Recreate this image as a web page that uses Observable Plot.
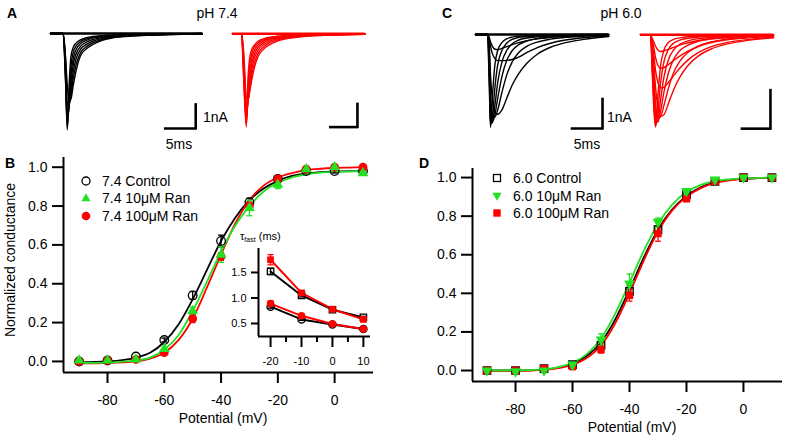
<!DOCTYPE html>
<html><head><meta charset="utf-8">
<script src="https://cdn.jsdelivr.net/npm/d3@7"></script>
<script src="https://cdn.jsdelivr.net/npm/@observablehq/plot@0.6"></script>
<style>
body{margin:0;background:#fff}
#root{position:relative;width:787px;height:441px;overflow:hidden;font-family:Arial,"Liberation Sans",Helvetica,sans-serif;color:#000;background:#fff}
.abs{position:absolute}
.lbl{position:absolute;white-space:nowrap;line-height:1}
</style></head><body><div id="root"></div>
<script>
// ---------------- DATA ----------------
const potentials = [-90,-80,-70,-60,-50,-40,-30,-20,-10,0,10];
// Panel B (pH 7.4) normalized conductance
const B_control = [0.0,0.005,0.025,0.11,0.34,0.62,0.82,0.94,0.98,0.98,0.98];
const B_ran10   = [0.005,0.005,0.01,0.065,0.26,0.55,0.79,0.91,0.99,1.0,0.97];
const B_ran100  = [0.0,0.005,0.01,0.045,0.22,0.54,0.80,0.94,0.99,1.0,1.0];
const B_control_err = [0,0,0,0.01,0.02,0.03,0.02,0.01,0,0.01,0];
const B_ran10_err   = [0,0,0,0,0.02,0.04,0.04,0.02,0,0,0.01];
const B_ran100_err  = [0,0,0,0,0.02,0.02,0.02,0.01,0,0,0];
// Fitted Boltzmann curves
const fitV = [-90,-80,-70,-65,-60,-55,-50,-45,-40,-35,-30,-25,-20,-15,-10,-5,0,5,10];
const B_fit_control = [-0.005,0.0,0.02,0.045,0.10,0.19,0.32,0.47,0.62,0.74,0.83,0.89,0.93,0.955,0.968,0.975,0.978,0.98,0.98];
const B_fit_ran10   = [-0.008,-0.006,0.005,0.02,0.06,0.135,0.26,0.41,0.565,0.70,0.80,0.875,0.92,0.948,0.963,0.972,0.976,0.978,0.98];
const B_fit_ran100  = [-0.01,-0.008,0.0,0.015,0.045,0.11,0.22,0.38,0.55,0.71,0.83,0.905,0.947,0.97,0.985,0.992,0.996,0.998,1.0];
// Panel D (pH 6.0)
const D_control = [0.0,0.0,0.01,0.03,0.13,0.41,0.73,0.91,0.98,1.0,1.0];
const D_ran10   = [0.0,-0.005,0.0,0.03,0.16,0.45,0.77,0.93,0.99,1.0,1.0];
const D_ran100  = [0.0,0.0,0.01,0.02,0.11,0.39,0.71,0.89,0.98,1.0,1.0];
const D_control_err = [0,0,0,0,0.02,0.03,0.02,0.01,0,0.01,0];
const D_ran10_err   = [0,0,0,0,0.03,0.05,0.02,0.01,0,0,0];
const D_ran100_err  = [0,0,0,0,0.02,0.03,0.04,0.01,0,0,0];
const D_fit_control = [0,0,0.005,0.015,0.035,0.075,0.145,0.265,0.42,0.585,0.73,0.835,0.905,0.95,0.975,0.988,0.994,0.997,0.999];
const D_fit_ran10   = [0,0,0.006,0.018,0.04,0.085,0.165,0.295,0.455,0.62,0.76,0.86,0.925,0.962,0.982,0.991,0.996,0.998,1.0];
const D_fit_ran100  = [-0.003,-0.003,0.003,0.012,0.03,0.065,0.13,0.245,0.40,0.57,0.72,0.83,0.90,0.945,0.972,0.986,0.993,0.997,0.999];
// Inset: tau fast (ms)
const insetV = [-20,-10,0,10];
const tau_ctrl_upper = [1.52,1.05,0.77,0.62];
const tau_ran_upper  = [1.75,1.10,0.78,0.58];
const tau_ctrl_lower = [0.83,0.58,0.48,0.39];
const tau_ran_lower  = [0.89,0.65,0.49,0.39];
const tau_ctrl_upper_err = [0.06,0.03,0.02,0.02];
const tau_ran_upper_err  = [0.10,0.03,0.03,0.02];
const tau_ctrl_lower_err = [0.03,0.02,0.02,0.02];
const tau_ran_lower_err  = [0.05,0.03,0.02,0.02];
// Current traces (ms, nA)
const A_time = [0,2.1,2.5,2.8,3.1,3.4,3.8,4.3,5.0,6.0,7.0,8.5,10,12.5,16,20,25.3];
const A_black = [
 [0,0,-2.0,-4.1,-2.2,-1.0,-0.58,-0.4,-0.27,-0.18,-0.13,-0.09,-0.07,-0.05,-0.03,-0.02,0],
 [0,0,-1.9,-4.0,-2.7,-1.4,-0.8,-0.52,-0.34,-0.23,-0.16,-0.11,-0.08,-0.05,-0.03,-0.02,0],
 [0,0,-1.7,-3.8,-3.0,-1.8,-1.05,-0.67,-0.43,-0.29,-0.2,-0.14,-0.1,-0.06,-0.04,-0.02,0],
 [0,0,-1.5,-3.6,-3.1,-2.1,-1.3,-0.85,-0.55,-0.37,-0.26,-0.18,-0.12,-0.07,-0.05,-0.03,-0.01],
 [0,0,-1.3,-3.3,-3.1,-2.4,-1.6,-1.05,-0.68,-0.46,-0.33,-0.22,-0.15,-0.09,-0.06,-0.03,-0.01],
 [0,0,-1.1,-3.0,-3.0,-2.6,-1.9,-1.3,-0.82,-0.56,-0.4,-0.26,-0.18,-0.11,-0.07,-0.04,-0.02],
 [0,0,-1.0,-2.2,-2.9,-2.8,-2.2,-1.55,-0.95,-0.65,-0.47,-0.3,-0.21,-0.13,-0.08,-0.05,-0.02]
];
const A_red_time = [0,1.7,2.1,2.6,2.9,3.2,3.6,4.1,4.8,5.8,6.8,8.3,10,12.5,16,20,24.9];
const A_red = [
 [0,0,-2.0,-4.1,-2.0,-1.1,-0.7,-0.5,-0.33,-0.22,-0.16,-0.11,-0.08,-0.05,-0.03,-0.02,0],
 [0,0,-1.8,-4.0,-2.5,-1.45,-0.88,-0.6,-0.4,-0.27,-0.19,-0.13,-0.09,-0.06,-0.04,-0.02,0],
 [0,0,-1.6,-3.85,-2.85,-1.8,-1.1,-0.74,-0.49,-0.33,-0.23,-0.16,-0.11,-0.07,-0.04,-0.02,0],
 [0,0,-1.4,-3.65,-3.0,-2.1,-1.35,-0.9,-0.6,-0.4,-0.28,-0.19,-0.13,-0.08,-0.05,-0.03,-0.01],
 [0,0,-1.2,-3.4,-3.05,-2.35,-1.6,-1.08,-0.72,-0.48,-0.34,-0.23,-0.16,-0.1,-0.06,-0.03,-0.01],
 [0,0,-1.0,-3.1,-3.0,-2.5,-1.85,-1.3,-0.86,-0.58,-0.41,-0.28,-0.19,-0.12,-0.07,-0.04,-0.02],
 [0,0,-0.8,-2.8,-2.9,-2.6,-2.05,-1.5,-1.0,-0.68,-0.5,-0.33,-0.22,-0.14,-0.08,-0.05,-0.02]
];
const C_time = [0,2.0,2.3,2.5,2.8,3.2,3.7,4.4,5.2,6.1,7.2,8.6,10.3,12.5,15,18,22.2];
const C_black = [
 [0,0,-1.8,-3.2,-2.2,-1.1,-0.55,-0.28,-0.15,-0.09,-0.06,-0.04,-0.03,-0.02,-0.01,0,0],
 [0,0,-1.5,-3.1,-2.9,-1.9,-1.05,-0.55,-0.3,-0.17,-0.1,-0.07,-0.05,-0.03,-0.02,-0.01,0],
 [0,0,-1.2,-2.9,-3.05,-2.5,-1.65,-0.95,-0.55,-0.32,-0.19,-0.12,-0.08,-0.05,-0.03,-0.02,0],
 [0,0,-0.9,-2.5,-3.0,-2.8,-2.2,-1.45,-0.9,-0.56,-0.35,-0.22,-0.14,-0.09,-0.05,-0.03,-0.01],
 [0,0,-0.6,-2.0,-2.7,-2.85,-2.6,-2.0,-1.4,-0.95,-0.62,-0.4,-0.26,-0.16,-0.1,-0.06,-0.02],
 [0,0,-0.4,-1.4,-2.2,-2.7,-2.75,-2.6,-2.2,-1.75,-1.35,-0.98,-0.68,-0.44,-0.28,-0.17,-0.07],
 [0,0,-0.2,-0.4,-0.65,-0.82,-0.9,-0.9,-0.89,-0.86,-0.78,-0.62,-0.45,-0.3,-0.19,-0.11,-0.05],
 [0,0,-0.1,-0.25,-0.4,-0.5,-0.52,-0.48,-0.42,-0.35,-0.28,-0.21,-0.15,-0.1,-0.06,-0.04,-0.02]
];
const C_red_time = [0,1.8,2.1,2.4,2.7,3.1,3.6,4.2,5.0,5.9,7.0,8.5,10.3,12.5,15.5,19.5,23.75];
const C_red = [
 [0,0,-1.0,-2.0,-2.43,-1.6,-0.8,-0.4,-0.2,-0.12,-0.08,-0.05,-0.04,-0.03,-0.02,-0.01,0],
 [0,0,-0.9,-1.8,-2.4,-2.0,-1.25,-0.7,-0.38,-0.22,-0.14,-0.09,-0.06,-0.04,-0.03,-0.02,0],
 [0,0,-0.8,-1.6,-2.3,-2.25,-1.7,-1.1,-0.65,-0.4,-0.25,-0.16,-0.1,-0.07,-0.04,-0.02,-0.01],
 [0,0,-0.6,-1.3,-2.1,-2.3,-2.0,-1.5,-1.0,-0.65,-0.42,-0.27,-0.17,-0.11,-0.07,-0.04,-0.02],
 [0,0,-0.5,-1.1,-1.8,-2.2,-2.15,-1.85,-1.4,-1.0,-0.7,-0.46,-0.3,-0.19,-0.11,-0.06,-0.03],
 [0,0,-0.35,-0.8,-1.4,-1.9,-2.15,-2.1,-1.8,-1.45,-1.12,-0.8,-0.56,-0.38,-0.24,-0.14,-0.08],
 [0,0,-0.25,-0.55,-0.95,-1.25,-1.4,-1.38,-1.25,-1.08,-0.88,-0.66,-0.47,-0.32,-0.2,-0.12,-0.06],
 [0,0,-0.15,-0.35,-0.6,-0.8,-0.88,-0.86,-0.78,-0.68,-0.56,-0.43,-0.31,-0.21,-0.13,-0.08,-0.04],
 [0,0,-0.1,-0.2,-0.3,-0.4,-0.44,-0.42,-0.38,-0.33,-0.27,-0.21,-0.15,-0.1,-0.07,-0.04,-0.02]
];
const legendB = ["7.4 Control","7.4 10\u03bcM Ran","7.4 100\u03bcM Ran"];
const legendD = ["6.0 Control","6.0 10\u03bcM Ran","6.0 100\u03bcM Ran"];
const xTicksMain = [-80,-60,-40,-20,0];
const yTicksMain = [0,0.2,0.4,0.6,0.8,1.0];
const insetXTicks = [-20,-10,0,10];
const insetMinorTicks = [-15,-5,5];
const insetYTicks = [0.5,1.0,1.5];

// ---------------- STYLE ----------------
const GREEN = "#22e022", RED = "#ff0000", BLACK = "#000";
const FONT = "Arial, 'Liberation Sans', Helvetica, sans-serif";
const root = document.getElementById("root");

function place(node, left, top, w, h){
  const d = document.createElement("div");
  d.className = "abs"; d.style.left = left+"px"; d.style.top = top+"px";
  if (w) d.style.width = w+"px"; if (h) d.style.height = h+"px";
  d.appendChild(node); root.appendChild(d); return d;
}
function label(html, x, y, o={}){
  const d = document.createElement("div");
  d.className = "lbl"; d.innerHTML = html;
  d.style.fontSize = (o.size||14)+"px";
  if (o.bold) d.style.fontWeight = "bold";
  d.style.left = x+"px"; d.style.top = y+"px";
  const ax = o.anchor==="start" ? "0" : o.anchor==="end" ? "-100%" : "-50%";
  d.style.transform = `translate(${ax},-50%)` + (o.rotate ? ` rotate(${o.rotate}deg)` : "");
  root.appendChild(d); return d;
}
const triangleDown = {draw(ctx, size){const a=Math.sqrt(4*size/Math.sqrt(3)), h=a*Math.sqrt(3)/2; ctx.moveTo(-a/2,-h/3); ctx.lineTo(a/2,-h/3); ctx.lineTo(0,2*h/3); ctx.closePath();}};
const capSym = {draw(ctx, size){const w=Math.sqrt(size); ctx.moveTo(-w/2,0); ctx.lineTo(w/2,0);}};
const fmt1 = d3.format(".1f");

function seriesMarks(v, vals, errs, fitX, fitY, st){
  const pts = v.map((x,i)=>({x, y: vals[i], e: errs[i]}));
  const fit = fitX ? fitX.map((x,i)=>({x, y: fitY[i]})) : pts;
  const eb = pts.filter(d=>d.e>0);
  return {
    line: Plot.line(fit, {x:"x", y:"y", stroke: st.color, strokeWidth: st.lw||1.8, curve: fitX ? "monotone-x" : "linear"}),
    err: [
      Plot.ruleX(eb, {x:"x", y1: d=>d.y-d.e, y2: d=>d.y+d.e, stroke: st.color, strokeWidth: 1.3}),
      Plot.dot(eb, {x:"x", y: d=>d.y-d.e, symbol: capSym, r: 3.4, stroke: st.color, fill:"none", strokeWidth:1.3}),
      Plot.dot(eb, {x:"x", y: d=>d.y+d.e, symbol: capSym, r: 3.4, stroke: st.color, fill:"none", strokeWidth:1.3})
    ],
    dots: Plot.dot(pts, {x:"x", y:"y", symbol: st.symbol, r: st.r, fill: st.open ? "none" : st.color, stroke: st.open ? st.color : "none", strokeWidth: 1.3})
  };
}

function mainPlot(cfg){
  const s = cfg.series.map(d => seriesMarks(potentials, d.vals, d.errs, fitV, d.fit, d));
  return Plot.plot({
    width: cfg.width, height: cfg.height,
    marginLeft: cfg.ml, marginRight: cfg.mr, marginTop: cfg.mt, marginBottom: cfg.mb,
    x: {domain: cfg.xd}, y: {domain: cfg.yd},
    style: {fontSize: "14px", fontFamily: FONT, background: "transparent", overflow: "visible", color: "#000"},
    marks: [
      Plot.axisX({ticks: xTicksMain, tickSize: 11, tickPadding: 12, strokeWidth: 2, label: null, tickFormat: d=>String(d)}),
      Plot.axisY({ticks: yTicksMain, tickSize: 11, tickPadding: 5, strokeWidth: 2, label: null, tickFormat: fmt1}),
      Plot.ruleY([cfg.yd[0]], {stroke: BLACK, strokeWidth: 2}),
      Plot.ruleX([cfg.xd[0]], {stroke: BLACK, strokeWidth: 2}),
      ...s.map(m=>m.line),
      ...s.flatMap(m=>m.err),
      ...s.map(m=>m.dots)
    ]
  });
}

// ---------------- PANEL B ----------------
place(mainPlot({
  width: 385, height: 290, ml: 63, mr: 12, mt: 12, mb: 63,
  xd: [-95.5, 13.7], yd: [-0.057, 1.05],
  series: [
    {vals: B_control, errs: B_control_err, fit: B_fit_control, color: BLACK, symbol: "circle", r: 4.3, open: true},
    {vals: B_ran100, errs: B_ran100_err, fit: B_fit_ran100, color: RED, symbol: "circle", r: 4.4},
    {vals: B_ran10, errs: B_ran10_err, fit: B_fit_ran10, color: GREEN, symbol: "triangle", r: 4}
  ]
}), 0, 145, 385, 290);

// ---------------- PANEL D ----------------
place(mainPlot({
  width: 392, height: 290, ml: 77, mr: 5, mt: 23, mb: 54,
  xd: [-95.1, 13.7], yd: [-0.057, 1.047],
  series: [
    {vals: D_control, errs: D_control_err, fit: D_fit_control, color: BLACK, symbol: "square", r: 4.2, open: true},
    {vals: D_ran100, errs: D_ran100_err, fit: D_fit_ran100, color: RED, symbol: "square", r: 4.2},
    {vals: D_ran10, errs: D_ran10_err, fit: D_fit_ran10, color: GREEN, symbol: triangleDown, r: 4}
  ]
}), 395, 145, 392, 290);

// ---------------- INSET ----------------
{
  const xd = [-23.9, 12.3], yd = [0.245, 1.97];
  const sets = [
    seriesMarks(insetV, tau_ctrl_upper, tau_ctrl_upper_err, null, null, {color: BLACK, symbol: "square", r: 3.6, open: true, lw: 2}),
    seriesMarks(insetV, tau_ctrl_lower, tau_ctrl_lower_err, null, null, {color: BLACK, symbol: "circle", r: 3.6, open: true, lw: 2}),
    seriesMarks(insetV, tau_ran_upper, tau_ran_upper_err, null, null, {color: RED, symbol: "square", r: 3.8, lw: 2}),
    seriesMarks(insetV, tau_ran_lower, tau_ran_lower_err, null, null, {color: RED, symbol: "circle", r: 3.8, lw: 2})
  ];
  place(Plot.plot({
    width: 153, height: 132, marginLeft: 36, marginRight: 5, marginTop: 8, marginBottom: 36,
    x: {domain: xd}, y: {domain: yd},
    style: {fontSize: "11px", fontFamily: FONT, background: "transparent", overflow: "visible", color: "#000"},
    marks: [
      Plot.axisX({ticks: insetMinorTicks, tickSize: 6, strokeWidth: 2, label: null, tickFormat: () => ""}),
      Plot.axisX({ticks: insetXTicks, tickSize: 11, tickPadding: 10, strokeWidth: 2, label: null, tickFormat: d=>String(d)}),
      Plot.axisY({ticks: insetYTicks, tickSize: 7, tickPadding: 5, strokeWidth: 2, label: null, tickFormat: fmt1}),
      Plot.ruleY([yd[0]], {stroke: BLACK, strokeWidth: 2}),
      Plot.ruleX([xd[0]], {stroke: BLACK, strokeWidth: 2}),
      ...sets.map(m=>m.line), ...sets.flatMap(m=>m.err), ...sets.map(m=>m.dots)
    ]
  }), 222, 240, 153, 132);
  label("\u03c4<sub style='font-size:7px;vertical-align:-2px'>fast</sub> (ms)", 240, 237, {size: 11, anchor: "start"});
}

// ---------------- TRACES ----------------
function tracePlot(cfg){
  const rows = cfg.traces.flatMap((tr,k)=>tr.map((v,j)=>({t: cfg.time[j], i: v, k})));
  const t0 = cfg.time[0], t1 = cfg.time[cfg.time.length-1];
  const bar = [cfg.bar];
  return Plot.plot({
    width: cfg.width, height: cfg.height, margin: 0,
    x: {domain: cfg.xd, axis: null}, y: {domain: cfg.yd, axis: null},
    style: {background: "transparent", overflow: "visible"},
    marks: [
      Plot.ruleY([0], {x1: t0, x2: t1, stroke: cfg.color, strokeWidth: 2.6}),
      Plot.line(rows, {x:"t", y:"i", z:"k", stroke: cfg.color, strokeWidth: 1.4, curve: "monotone-x"}),
      Plot.ruleX(bar, {x: d=>d.t, y1: d=>d.i, y2: d=>d.i + d.di, stroke: BLACK, strokeWidth: 2.6, strokeLinecap: "square"}),
      Plot.ruleY(bar, {y: d=>d.i, x1: d=>d.t - d.dt, x2: d=>d.t, stroke: BLACK, strokeWidth: 2.6, strokeLinecap: "square"})
    ]
  });
}
place(tracePlot({width:160, height:110, xd:[-0.833,25.83], yd:[-4.34,0.34], time:A_time, traces:A_black, color:BLACK, bar:{t:24.2,i:-4.04,dt:5,di:1}}), 45, 25, 160, 110);
place(tracePlot({width:145, height:110, xd:[-1.31,25.9], yd:[-4.48,0.366], time:A_red_time, traces:A_red, color:RED, bar:{t:23.45,i:-4.11,dt:5,di:1}}), 225, 25, 145, 110);
place(tracePlot({width:140, height:110, xd:[-0.833,22.5], yd:[-3.48,0.31], time:C_time, traces:C_black, color:BLACK, bar:{t:21.17,i:-3.24,dt:5,di:1}}), 470, 25, 140, 110);
place(tracePlot({width:140, height:110, xd:[-0.89,24.1], yd:[-2.65,0.245], time:C_red_time, traces:C_red, color:RED, bar:{t:23.2,i:-2.47,dt:5,di:1}}), 635, 25, 140, 110);

// ---------------- TEXT ----------------
label("A", 12, 13, {bold: true, size: 14});
label("C", 447, 13, {bold: true, size: 14});
label("B", 10, 163, {bold: true, size: 14});
label("D", 424, 163, {bold: true, size: 14});
label("pH 7.4", 217, 13, {size: 14});
label("pH 6.0", 621, 13, {size: 14});
label("1nA", 203, 117, {size: 14, anchor: "start"});
label("1nA", 607, 117, {size: 14, anchor: "start"});
label("5ms", 179, 144, {size: 14});
label("5ms", 587, 144, {size: 14});
label("Potential (mV)", 223, 418, {size: 14});
label("Potential (mV)", 632, 427, {size: 14});
label("Normalized conductance", 10, 260, {size: 14, rotate: -90});

function legendRow(svgInner, cx, cy, text, tx){
  const ns = "http://www.w3.org/2000/svg";
  const s = document.createElementNS(ns, "svg");
  s.setAttribute("width", 14); s.setAttribute("height", 14);
  s.innerHTML = svgInner;
  place(s, cx-7, cy-7, 14, 14);
  label(text, tx, cy, {size: 14, anchor: "start"});
}
const tri = (c)=>`<path d="M7,2.2 L11.6,10.2 L2.4,10.2 Z" fill="${c}"/>`;
const triD = (c)=>`<path d="M2.4,3.8 L11.6,3.8 L7,11.8 Z" fill="${c}"/>`;
legendRow(`<circle cx="7" cy="7" r="4" fill="none" stroke="#000" stroke-width="1.3"/>`, 86, 181, legendB[0], 102);
legendRow(tri(GREEN), 86, 198, legendB[1], 102);
legendRow(`<circle cx="7" cy="7" r="4.3" fill="${RED}"/>`, 86, 216, legendB[2], 102);
legendRow(`<rect x="3.5" y="3.5" width="7" height="7" fill="none" stroke="#000" stroke-width="1.3"/>`, 497, 178, legendD[0], 513);
legendRow(triD(GREEN), 497, 196, legendD[1], 513);
legendRow(`<rect x="3.3" y="3.3" width="7.4" height="7.4" fill="${RED}"/>`, 497, 213, legendD[2], 513);
</script></body></html>
